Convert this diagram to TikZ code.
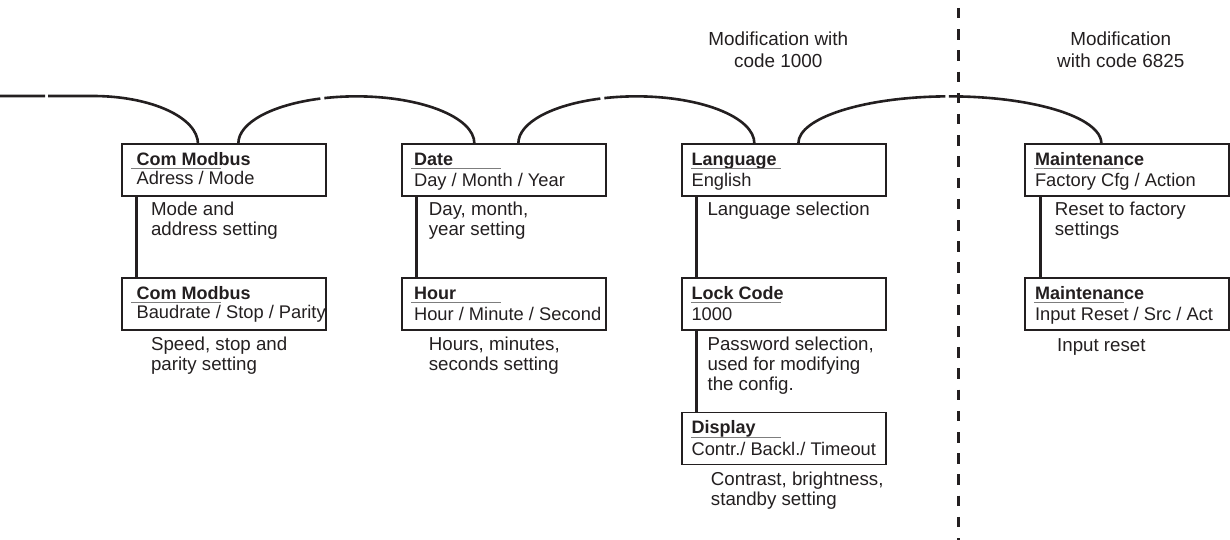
\documentclass[tikz,border=0pt]{standalone}
\usepackage{fontspec}
\setmainfont{Liberation Sans}
\usetikzlibrary{calc}
\definecolor{ink}{RGB}{35,31,32}
\definecolor{rulegray}{RGB}{125,125,125}
\begin{document}
\begin{tikzpicture}[x=1bp,y=-1bp,
  box/.style={draw=ink, line width=1.3bp, minimum width=204bp, minimum height=52bp, inner sep=0pt},
  ttl/.style={anchor=base west, inner sep=0pt, text=ink, font=\fontsize{18bp}{20bp}\selectfont\bfseries},
  sub/.style={anchor=base west, inner sep=0pt, text=ink, font=\fontsize{18.3bp}{20bp}\selectfont},
  desc/.style={anchor=base west, inner sep=0pt, text=ink, align=left, font=\fontsize{18.7bp}{20.3bp}\selectfont},
  head/.style={anchor=base, inner sep=0pt, text=ink, align=center, font=\fontsize{18.9bp}{22.3bp}\selectfont},
  link/.style={draw=ink, line width=2.6bp},
  uline/.style={draw=rulegray, line width=0.9bp},
  sepline/.style={draw=ink, line width=3bp, dash pattern=on 10.5bp off 10.7bp}
]
\useasboundingbox (0,0) rectangle (1230,540);

% boxes
\node[box] (b1) at (224,170) {};
\node[box] (b2) at (224,304) {};
\node[box] (b3) at (504,170) {};
\node[box] (b4) at (504,304) {};
\node[box] (b5) at (784,170) {};
\node[box] (b6) at (784,304) {};
\node[box] (b7) at (784,438.5) {};
\node[box] (b8) at (1127,170) {};
\node[box] (b9) at (1127,304) {};

% box texts
\node[ttl] (b1t) at ($(b1.north west)+(15,22)$) {Com Modbus};
\node[sub] (b1s) at ($(b1.north west)+(15,41.5)$) {Adress / Mode};
\node[ttl] (b2t) at ($(b2.north west)+(15,22)$) {Com Modbus};
\node[sub] (b2s) at ($(b2.north west)+(15,41.5)$) {Baudrate / Stop / Parity};
\node[ttl] (b3t) at ($(b3.north west)+(12.5,22)$) {Date};
\node[sub] (b3s) at ($(b3.north west)+(12.5,43.5)$) {Day / Month / Year};
\node[ttl] (b4t) at ($(b4.north west)+(12.5,22)$) {Hour};
\node[sub] (b4s) at ($(b4.north west)+(12.5,43.5)$) {Hour / Minute / Second};
\node[ttl] (b5t) at ($(b5.north west)+(10,22)$) {Language};
\node[sub] (b5s) at ($(b5.north west)+(10,43.5)$) {English};
\node[ttl] (b6t) at ($(b6.north west)+(10,22)$) {Lock Code};
\node[sub] (b6s) at ($(b6.north west)+(10,43.5)$) {1000};
\node[ttl] (b7t) at ($(b7.north west)+(10,22)$) {Display};
\node[sub] (b7s) at ($(b7.north west)+(10,43.5)$) {Contr./ Backl./ Timeout};
\node[ttl] (b8t) at ($(b8.north west)+(10.5,22)$) {Maintenance};
\node[sub] (b8s) at ($(b8.north west)+(10.5,43.5)$) {Factory Cfg / Action};
\node[ttl] (b9t) at ($(b9.north west)+(10.5,22)$) {Maintenance};
\node[sub] (b9s) at ($(b9.north west)+(10.5,43.5)$) {Input Reset / Src / Act};

% underlines
\foreach \b in {b1,b2,b3,b4,b5,b6,b7,b8,b9}
  \draw[uline] ($(\b.north west)+(10,25.3)$) -- ($(\b.north west)+(100,25.3)$);

% vertical connectors
\draw[link] ($(b1.south west)+(15,0)$) -- ($(b2.north west)+(15,0)$);
\draw[link] ($(b3.south west)+(15,0)$) -- ($(b4.north west)+(15,0)$);
\draw[link] ($(b5.south west)+(15,0)$) -- ($(b6.north west)+(15,0)$);
\draw[link] ($(b6.south west)+(15,0)$) -- ($(b7.north west)+(15,0)$);
\draw[link] ($(b8.south west)+(16,0)$) -- ($(b9.north west)+(16,0)$);

% separator
\coordinate (dtop) at (958.7,8);
\coordinate (dbot) at (958.7,540);
\draw[sepline] (dtop) -- (dbot);

% top chain
\coordinate (lead) at (0,96);
\draw[link] (lead) -- ++(45,0) ++(3,0) -- ++(45,0)
  arc[start angle=270, end angle=360, x radius=105, y radius=48];
\draw[link] ($(b1.north west)+(117,0)$)
  arc[start angle=180, end angle=252.24, x radius=118, y radius=47] ++(4,-0.48)
  arc[start angle=254.26, end angle=360, x radius=118, y radius=47];
\draw[link] ($(b3.north west)+(117,0)$)
  arc[start angle=180, end angle=252.24, x radius=118, y radius=47] ++(4,-0.48)
  arc[start angle=254.26, end angle=360, x radius=118, y radius=47];
\draw[link] ($(b5.north west)+(117,0)$)
  arc[start angle=180, end angle=268.30, x radius=151.5, y radius=47] ++(3.5,0)
  arc[start angle=269.62, end angle=360, x radius=151.5, y radius=47];

% headers (anchor = baseline of last line)
\node[head] (h1) at (778.3,68) {Modification with\\code 1000};
\node[head] (h2) at (1120.8,68) {Modification\\with code 6825};

% descriptions (anchor = baseline of last line)
\node[desc] (d1) at ($(b1.south west)+(29.5,39.3)$) {Mode and\\address setting};
\node[desc] (d2) at ($(b2.south west)+(29.5,40.3)$) {Speed, stop and\\parity setting};
\node[desc] (d3) at ($(b3.south west)+(27.3,39.3)$) {Day, month,\\year setting};
\node[desc] (d4) at ($(b4.south west)+(27.3,40.3)$) {Hours, minutes,\\seconds setting};
\node[desc] (d5) at ($(b5.south west)+(26,18.5)$) {Language selection};
\node[desc] (d6) at ($(b6.south west)+(26,60.1)$) {Password selection,\\used for modifying\\the config.};
\node[desc] (d7) at ($(b7.south west)+(29.4,40.8)$) {Contrast, brightness,\\standby setting};
\node[desc] (d8) at ($(b8.south west)+(30.3,39.3)$) {Reset to factory\\settings};
\node[desc] (d9) at ($(b9.south west)+(32.6,21)$) {Input reset};
\end{tikzpicture}
\end{document}
